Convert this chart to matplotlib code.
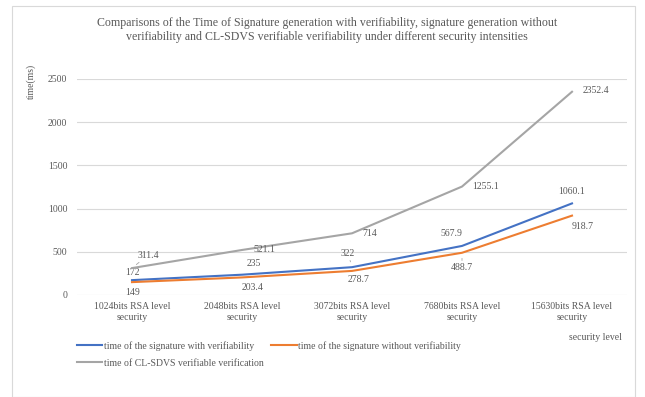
import matplotlib.pyplot as plt
from matplotlib.patches import Rectangle

plt.rcParams['font.family'] = ['Liberation Serif', 'DejaVu Serif']

# data
levels = ['1024bits RSA level\nsecurity', '2048bits RSA level\nsecurity',
          '3072bits RSA level\nsecurity', '7680bits RSA level\nsecurity',
          '15630bits RSA level\nsecurity']
with_verif = [172, 235, 322, 567.9, 1060.1]
without_verif = [149, 203.4, 278.7, 488.7, 918.7]
cl_sdvs = [311.4, 521.1, 714, 1255.1, 2352.4]

series_names = ['time of the signature with verifiability',
                'time of the signature without verifiability',
                'time of CL-SDVS verifiable verification']
colors = ['#4472C4', '#ED7D31', '#A5A5A5']

# label offsets in pixels (dx, dy) for each point
offs_blue = [(0, 8), (12, 11), (-4, 14), (-11, 12), (0, 12)]
offs_orange = [(1, -10), (11, -10), (7, -9), (0, -15), (11, -11)]
offs_grey = [(16, 13), (22, 0), (18, 0), (24, 0), (24, 1)]
leader_blue = [False, False, True, False, False]
leader_orange = [False, False, False, True, False]
leader_grey = [True, False, False, False, False]

txt = '#595959'

fig = plt.figure(figsize=(6.45, 3.97), dpi=100)
fig.patches.append(Rectangle((12 / 645, 0.0), 623 / 645, 1 - 6 / 397,
                             transform=fig.transFigure, fill=False,
                             edgecolor='#D9D9D9', lw=0.8))
ax = fig.add_axes([77 / 645, 1 - 295 / 397, 550 / 645, 216 / 397])

x = list(range(len(levels)))
lines = []
for vals, c, offs, leads in [(with_verif, colors[0], offs_blue, leader_blue),
                             (without_verif, colors[1], offs_orange, leader_orange),
                             (cl_sdvs, colors[2], offs_grey, leader_grey)]:
    ln, = ax.plot(x, vals, color=c, lw=1.5, zorder=3)
    lines.append(ln)
    for xi, v, (dx, dy), lead in zip(x, vals, offs, leads):
        ap = dict(arrowstyle='-', color='#A5A5A5', lw=0.6, shrinkA=0, shrinkB=4) if lead else None
        ax.annotate(f'{v:g}', (xi, v), xytext=(dx, dy), textcoords='offset pixels',
                    ha='center', va='center', fontsize=7, color=txt, arrowprops=ap)

ax.set_xlim(-0.5, 4.5)
ax.set_ylim(0, 2500)
ax.set_yticks([0, 500, 1000, 1500, 2000, 2500])
ax.set_xticks(x)
ax.set_xticklabels(levels, fontsize=7, color=txt, linespacing=1.3)
ax.tick_params(axis='y', labelsize=7, labelcolor=txt, length=0, pad=7)
ax.tick_params(axis='x', length=0, pad=5)
ax.grid(axis='y', color='#D9D9D9', lw=0.8, zorder=0)
for s in ax.spines.values():
    s.set_visible(False)

fig.text(327 / 645, 1 - 30 / 397,
         'Comparisons of the Time of Signature generation with verifiability, signature generation without\n'
         'verifiability and CL-SDVS verifiable verifiability under different security intensities',
         ha='center', va='center', fontsize=8.6, color=txt, linespacing=1.2)
fig.text(31 / 645, 1 - 81 / 397, 'time(ms)', rotation=90, ha='center', va='center',
         fontsize=7, color=txt)
fig.text(622 / 645, 1 - 338 / 397, 'security level', ha='right', va='center',
         fontsize=7, color=txt)

fig.legend(lines[:2], series_names[:2], loc='center left',
           bbox_to_anchor=(77 / 645, 1 - 346 / 397), ncol=2, frameon=False,
           fontsize=7, labelcolor=txt, handlelength=2.6, handletextpad=0.15,
           columnspacing=1.8, borderaxespad=0, borderpad=0)
fig.legend(lines[2:], series_names[2:], loc='center left',
           bbox_to_anchor=(77 / 645, 1 - 363 / 397), frameon=False,
           fontsize=7, labelcolor=txt, handlelength=2.6, handletextpad=0.15,
           borderaxespad=0, borderpad=0)

fig.savefig('out.png', dpi=100)
